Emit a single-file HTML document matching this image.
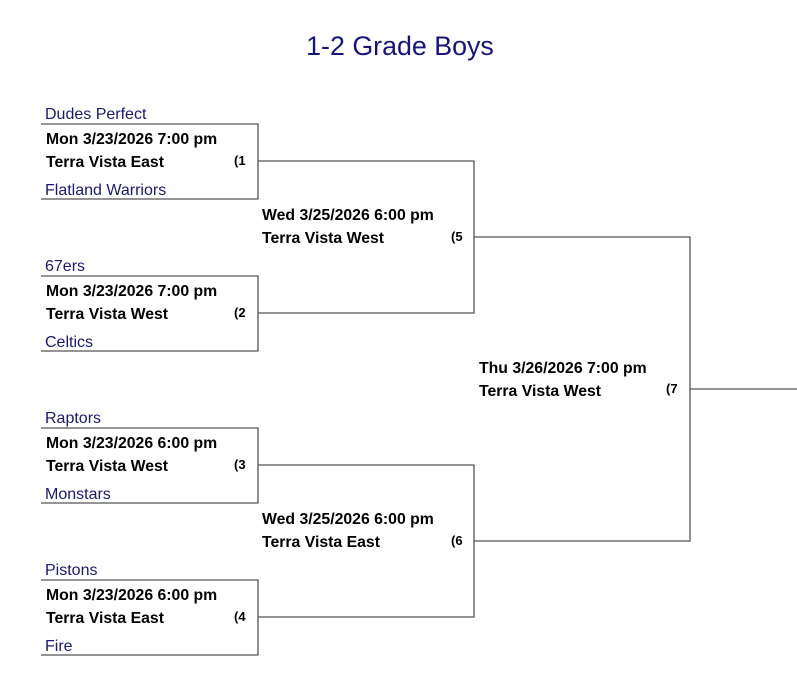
<!DOCTYPE html>
<html><head><meta charset="utf-8"><style>
html,body{margin:0;padding:0;background:#fff}
svg{display:block}
text{font-family:"Liberation Sans",Arial,sans-serif;font-size:15.8px}
.t{fill:#1a1a6e;font-size:16px}
.b{font-weight:bold;fill:#000}
.s{font-size:13px}
</style></head><body>
<svg width="797" height="682" viewBox="0 0 797 682">
<text x="400" y="55" text-anchor="middle" style="font-size:26.8px" fill="#14147a">1-2 Grade Boys</text>
<g stroke="#555" stroke-width="1.3" fill="none">
<polyline points="41,124 258,124 258,199 41,199"/>
<polyline points="41,276 258,276 258,351 41,351"/>
<polyline points="41,428 258,428 258,503 41,503"/>
<polyline points="41,580 258,580 258,655 41,655"/>
<polyline points="258,161 474,161 474,313 258,313"/>
<polyline points="258,465 474,465 474,617 258,617"/>
<polyline points="474,237 690,237 690,541 474,541"/>
<line x1="690" y1="389" x2="797" y2="389"/>
</g>
<g>
<text class="t" x="45" y="119">Dudes Perfect</text>
<text class="b" x="46" y="144">Mon 3/23/2026 7:00 pm</text>
<text class="b" x="46" y="167">Terra Vista East</text>
<text class="b s" x="234" y="165">(1</text>
<text class="t" x="45" y="195">Flatland Warriors</text>

<text class="t" x="45" y="271">67ers</text>
<text class="b" x="46" y="296">Mon 3/23/2026 7:00 pm</text>
<text class="b" x="46" y="319">Terra Vista West</text>
<text class="b s" x="234" y="317">(2</text>
<text class="t" x="45" y="347">Celtics</text>

<text class="t" x="45" y="423">Raptors</text>
<text class="b" x="46" y="448">Mon 3/23/2026 6:00 pm</text>
<text class="b" x="46" y="471">Terra Vista West</text>
<text class="b s" x="234" y="469">(3</text>
<text class="t" x="45" y="499">Monstars</text>

<text class="t" x="45" y="575">Pistons</text>
<text class="b" x="46" y="600">Mon 3/23/2026 6:00 pm</text>
<text class="b" x="46" y="623">Terra Vista East</text>
<text class="b s" x="234" y="621">(4</text>
<text class="t" x="45" y="651">Fire</text>

<text class="b" x="262" y="220">Wed 3/25/2026 6:00 pm</text>
<text class="b" x="262" y="243">Terra Vista West</text>
<text class="b s" x="451" y="241">(5</text>

<text class="b" x="262" y="524">Wed 3/25/2026 6:00 pm</text>
<text class="b" x="262" y="547">Terra Vista East</text>
<text class="b s" x="451" y="545">(6</text>

<text class="b" x="479" y="373">Thu 3/26/2026 7:00 pm</text>
<text class="b" x="479" y="396">Terra Vista West</text>
<text class="b s" x="666" y="393">(7</text>
</g>
</svg>
</body></html>
